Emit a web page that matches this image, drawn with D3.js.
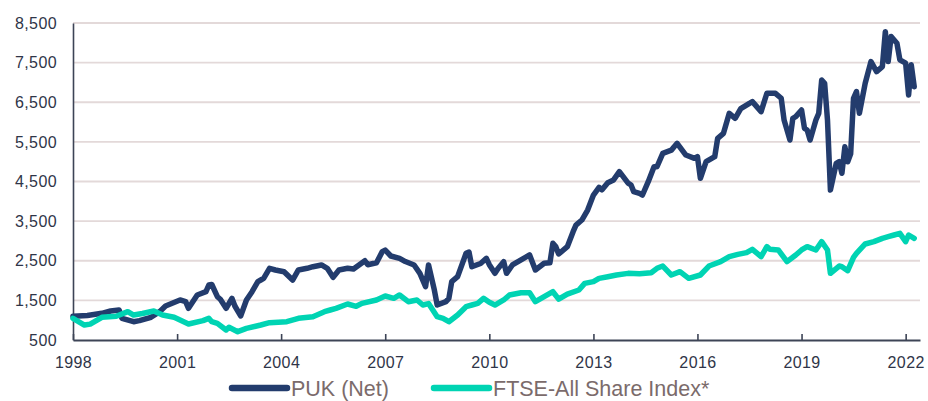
<!DOCTYPE html>
<html>
<head>
<meta charset="utf-8">
<script src="https://cdn.jsdelivr.net/npm/d3@7"></script>
<style>
  html, body { margin: 0; padding: 0; background: #fff; }
  svg { display: block; font-family: "Liberation Sans", Arial, sans-serif; }
</style>
</head>
<body>
<svg id="chart"></svg>
<script>
// PUK (Net) – month, value
const pukDates = [
  "1998-01","1998-06","1998-11","1999-02","1999-05","1999-06","1999-10","1999-12",
  "2000-04","2000-07","2000-09","2001-02","2001-04","2001-05","2001-08","2001-11",
  "2001-12","2002-01","2002-03","2002-04","2002-06","2002-08","2002-09","2002-11",
  "2003-01","2003-03","2003-05","2003-06","2003-07","2003-09","2003-11","2004-02",
  "2004-05","2004-07","2004-10","2004-12","2005-03","2005-05","2005-07","2005-09",
  "2005-12","2006-02","2006-06","2006-07","2006-10","2006-12","2007-01","2007-03",
  "2007-06","2007-08","2007-11","2008-01","2008-03","2008-04","2008-06","2008-07",
  "2008-10","2008-11","2008-12","2009-02","2009-05","2009-06","2009-07","2009-10",
  "2009-12","2010-01","2010-03","2010-04","2010-06","2010-07","2010-09","2010-12",
  "2011-03","2011-05","2011-08","2011-10","2011-11","2011-12","2012-01","2012-04",
  "2012-06","2012-07","2012-09","2012-11","2013-01","2013-03","2013-04","2013-06",
  "2013-08","2013-10","2014-01","2014-02","2014-03","2014-05","2014-06","2014-08",
  "2014-10","2014-11","2015-01","2015-04","2015-05","2015-06","2015-09","2015-12",
  "2016-01","2016-02","2016-04","2016-07","2016-08","2016-10","2016-12","2017-02",
  "2017-04","2017-07","2017-08","2017-11","2018-01","2018-04","2018-06","2018-07",
  "2018-09","2018-10","2018-11","2019-01","2019-02","2019-03","2019-04","2019-06",
  "2019-07","2019-08","2019-09","2019-10","2019-11","2020-01","2020-02","2020-03",
  "2020-04","2020-05","2020-06","2020-07","2020-08","2020-09","2020-11","2021-01",
  "2021-03","2021-05","2021-06","2021-07","2021-08","2021-10","2021-11","2022-01",
  "2022-02","2022-03","2022-04"
];
const pukValues = [
  1100,1120,1173,1232,1257,1046,962,988,
  1073,1215,1358,1510,1467,1300,1636,1719,
  1888,1900,1593,1527,1300,1552,1358,1106,
  1510,1719,1972,2014,2056,2309,2267,2224,
  2014,2267,2309,2350,2393,2309,2081,2267,
  2309,2290,2500,2400,2450,2730,2770,2620,
  2560,2480,2393,2183,1845,2393,1762,1383,
  1467,1550,1972,2098,2688,2720,2350,2430,
  2562,2400,2183,2300,2478,2183,2393,2520,
  2646,2267,2436,2450,2940,2856,2670,2856,
  3233,3401,3528,3780,4159,4353,4290,4470,
  4540,4748,4460,4412,4245,4200,4159,4495,
  4873,4873,5210,5290,5378,5462,5168,5084,
  5126,4580,5000,5126,5590,5715,6220,6095,
  6340,6473,6515,6262,6726,6726,6600,6052,
  5547,6095,6136,6304,5842,5800,5547,6052,
  6220,7060,6978,6052,4285,4958,5000,4707,
  5378,5000,5200,6600,6768,6220,6978,7527,
  7275,7400,8280,7527,8160,7990,7570,7486,
  6683,7444,6893
];

// FTSE-All Share Index* – month, value
const ftseDates = [
  "1998-01","1998-05","1998-07","1998-11","1999-04","1999-08","1999-10","2000-01",
  "2000-05","2000-08","2000-12","2001-05","2001-10","2001-12","2002-01","2002-03",
  "2002-06","2002-07","2002-10","2003-01","2003-06","2003-09","2004-03","2004-07",
  "2004-12","2005-04","2005-06","2005-08","2005-12","2006-03","2006-05","2006-10",
  "2007-01","2007-04","2007-06","2007-09","2007-12","2008-02","2008-04","2008-07",
  "2008-09","2008-11","2009-02","2009-05","2009-07","2009-09","2009-11","2010-01",
  "2010-03","2010-06","2010-08","2010-12","2011-03","2011-05","2011-08","2011-11",
  "2012-01","2012-04","2012-08","2012-10","2013-01","2013-03","2013-06","2013-09",
  "2014-01","2014-05","2014-09","2014-11","2015-01","2015-04","2015-07","2015-10",
  "2016-02","2016-05","2016-09","2016-12","2017-03","2017-06","2017-08","2017-11",
  "2018-01","2018-02","2018-05","2018-08","2018-11","2019-01","2019-03","2019-06",
  "2019-08","2019-10","2019-11","2020-02","2020-03","2020-05","2020-07","2020-08",
  "2020-11","2021-02","2021-05","2021-07","2021-09","2021-11","2022-01","2022-02",
  "2022-04"
];
const ftseValues = [
  1047,878,900,1073,1100,1215,1130,1170,
  1232,1130,1073,904,988,1047,962,920,
  752,820,710,794,878,937,962,1047,
  1089,1215,1257,1300,1408,1350,1425,1510,
  1610,1552,1636,1467,1510,1383,1420,1089,
  1047,962,1131,1341,1383,1425,1552,1450,
  1383,1510,1636,1694,1694,1467,1594,1719,
  1530,1660,1762,1930,1972,2056,2098,2140,
  2182,2170,2198,2309,2367,2140,2224,2056,
  2140,2367,2478,2604,2660,2704,2789,2604,
  2856,2789,2772,2478,2646,2772,2856,2772,
  2982,2772,2183,2367,2350,2250,2587,2688,
  2923,2982,3066,3107,3150,3192,2982,3150,
  3066
];

const yTicks = [500, 1500, 2500, 3500, 4500, 5500, 6500, 7500, 8500];
const xTickYears = [1998, 2001, 2004, 2007, 2010, 2013, 2016, 2019, 2022];
const seriesNames = ["PUK (Net)", "FTSE-All Share Index*"];

const width = 928, height = 401;
const margin = { left: 73, right: 8, top: 23, bottom: 61 };
const colors = ["#233c6d", "#00d4b3"];
const parseMonth = d3.timeParse("%Y-%m");

const series = [
  { name: seriesNames[0], color: colors[0],
    values: pukDates.map((d, i) => ({ date: parseMonth(d), value: pukValues[i] })) },
  { name: seriesNames[1], color: colors[1],
    values: ftseDates.map((d, i) => ({ date: parseMonth(d), value: ftseValues[i] })) },
];

const x = d3
  .scaleTime()
  .domain([new Date(1998, 0, 1), new Date(2022, 5, 1)])
  .range([margin.left, width - margin.right]);

const y = d3
  .scaleLinear()
  .domain([500, 8500])
  .range([height - margin.bottom, margin.top]);

const svg = d3.select("#chart").attr("width", width).attr("height", height);

// grid
svg.append("g")
  .selectAll("line")
  .data(yTicks.slice(1))
  .join("line")
  .attr("x1", margin.left)
  .attr("x2", width - margin.right)
  .attr("y1", (d) => y(d))
  .attr("y2", (d) => y(d))
  .attr("stroke", "#e3d9d9")
  .attr("stroke-width", 1.8);

// y axis
svg.append("g")
  .attr("transform", `translate(${margin.left},0)`)
  .call(d3.axisLeft(y).tickValues(yTicks).tickSize(0).tickPadding(16).tickFormat(d3.format(",")))
  .call((g) => g.select(".domain").attr("stroke", "#3d4456").attr("stroke-width", 1.6))
  .call((g) => g.selectAll("text")
    .attr("fill", "#2f3548")
    .attr("font-size", 16)
    .attr("letter-spacing", 0.4));

// x axis
svg.append("g")
  .attr("transform", `translate(0,${height - margin.bottom})`)
  .call(d3.axisBottom(x)
    .tickValues(xTickYears.map((yr) => new Date(yr, 0, 1)))
    .tickFormat(d3.timeFormat("%Y"))
    .tickSizeInner(-6)
    .tickSizeOuter(0)
    .tickPadding(17))
  .call((g) => g.select(".domain").attr("stroke", "#3d4456").attr("stroke-width", 2))
  .call((g) => g.selectAll(".tick line").attr("stroke", "#3d4456").attr("stroke-width", 1.6))
  .call((g) => g.selectAll("text")
    .attr("fill", "#2f3548")
    .attr("font-size", 16)
    .attr("letter-spacing", 0.4));

// lines
const line = d3.line()
  .x((d) => x(d.date))
  .y((d) => y(d.value));

svg.append("g")
  .selectAll("path")
  .data(series)
  .join("path")
  .attr("fill", "none")
  .attr("stroke", (d) => d.color)
  .attr("stroke-width", 5.5)
  .attr("stroke-linejoin", "round")
  .attr("stroke-linecap", "round")
  .attr("d", (d) => line(d.values));

// legend
const legendPos = [232, 434];
const legend = svg.append("g")
  .selectAll("g")
  .data(series)
  .join("g")
  .attr("transform", (d, i) => `translate(${legendPos[i]},388)`);

legend.append("line")
  .attr("x1", 0)
  .attr("x2", 55)
  .attr("stroke", (d) => d.color)
  .attr("stroke-width", 6.5)
  .attr("stroke-linecap", "round");

legend.append("text")
  .attr("x", 59)
  .attr("y", 7.5)
  .attr("fill", "#7b6b6b")
  .attr("font-size", 21.5)
  .text((d) => d.name);
</script>
</body>
</html>
